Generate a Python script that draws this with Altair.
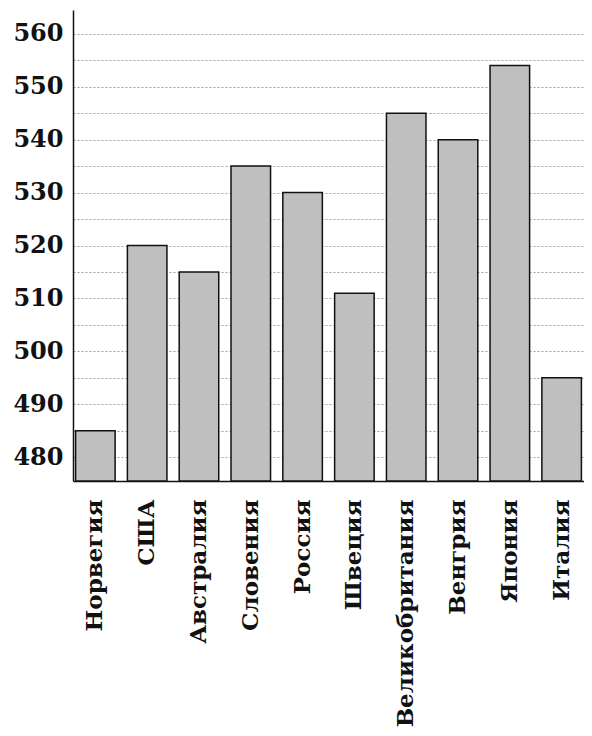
import altair as alt
import pandas as pd

countries = ["Норвегия", "США", "Австралия", "Словения", "Россия", "Швеция",
             "Великобритания", "Венгрия", "Япония", "Италия"]
scores = [485, 520, 515, 535, 530, 511, 545, 540, 554, 495]
y_ticks = [480, 485, 490, 495, 500, 505, 510, 515, 520, 525, 530, 535, 540, 545, 550, 555, 560]
y_min, y_max = 475.5, 564.5

df = pd.DataFrame({"country": countries, "score": scores})

bars = alt.Chart(df).mark_bar(
    fill="#bfbfbf", stroke="#111111", strokeWidth=1.5
).encode(
    x=alt.X("country:N", sort=countries, title=None,
            scale=alt.Scale(paddingInner=0.237, paddingOuter=0.05),
            axis=alt.Axis(labelAngle=-90, labelFont="DejaVu Serif", labelFontWeight="bold",
                          labelFontSize=23, labelColor="#111", ticks=False, labelPadding=18,
                          labelLimit=0,
                          domainColor="#111", domainWidth=1.5, grid=False)),
    y=alt.Y("score:Q", title=None,
            scale=alt.Scale(domain=[y_min, y_max], zero=False, nice=False),
            axis=alt.Axis(values=y_ticks, labelExpr="datum.value % 10 == 0 ? datum.label : ''",
                          labelFont="DejaVu Serif", labelFontWeight="bold", labelFontSize=24,
                          labelColor="#111", ticks=False, labelPadding=10,
                          domainColor="#111", domainWidth=1.5,
                          grid=True, gridColor="#888", gridDash=[2, 2], gridWidth=0.8)),
    y2=alt.datum(y_min),
)

chart = bars.properties(
    width=511, height=471,
    autosize=alt.AutoSizeParams(type="none"),
    padding={"left": 65, "top": 2, "right": 0, "bottom": 252},
).configure_view(stroke=None)

chart.save("out.html", embed_options={"renderer": "svg", "actions": False})
